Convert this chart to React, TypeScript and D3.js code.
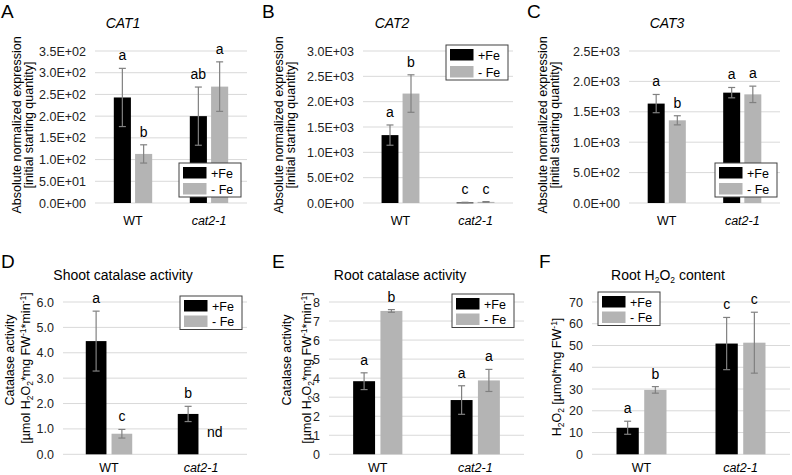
import React from "react";
import * as d3 from "d3";

// ---------- DATA ----------
const groups = ["WT", "cat2-1"];
const seriesNames = ["+Fe", "- Fe"];

// A: CAT1
const cat1Plus = [243, 200];
const cat1Minus = [113, 268];
const cat1PlusErr = [67, 67];
const cat1MinusErr = [21, 57];
const cat1PlusLetters = ["a", "ab"];
const cat1MinusLetters = ["b", "a"];
const cat1Ticks = [0, 50, 100, 150, 200, 250, 300, 350];

// B: CAT2
const cat2Plus = [1340, 10];
const cat2Minus = [2160, 22];
const cat2PlusErr = [200, 4];
const cat2MinusErr = [370, 6];
const cat2PlusLetters = ["a", "c"];
const cat2MinusLetters = ["b", "c"];
const cat2Ticks = [0, 500, 1000, 1500, 2000, 2500, 3000];

// C: CAT3
const cat3Plus = [1635, 1815];
const cat3Minus = [1360, 1787];
const cat3PlusErr = [150, 85];
const cat3MinusErr = [75, 135];
const cat3PlusLetters = ["a", "a"];
const cat3MinusLetters = ["b", "a"];
const cat3Ticks = [0, 500, 1000, 1500, 2000, 2500];

// D: Shoot catalase activity
const shootPlus = [4.46, 1.59];
const shootMinus = [0.81, null];
const shootPlusErr = [1.18, 0.3];
const shootMinusErr = [0.17, null];
const shootPlusLetters = ["a", "b"];
const shootMinusLetters = ["c", "nd"];
const shootTicks = [0, 1, 2, 3, 4, 5, 6];

// E: Root catalase activity
const rootCatPlus = [3.84, 2.85];
const rootCatMinus = [7.53, 3.88];
const rootCatPlusErr = [0.44, 0.75];
const rootCatMinusErr = [0.07, 0.58];
const rootCatPlusLetters = ["a", "a"];
const rootCatMinusLetters = ["b", "a"];
const rootCatTicks = [0, 1, 2, 3, 4, 5, 6, 7, 8];

// F: Root H2O2 content
const h2o2Plus = [12.2, 50.9];
const h2o2Minus = [29.6, 51.3];
const h2o2PlusErr = [3, 12];
const h2o2MinusErr = [1.5, 14];
const h2o2PlusLetters = ["a", "c"];
const h2o2MinusLetters = ["b", "c"];
const h2o2Ticks = [0, 10, 20, 30, 40, 50, 60, 70];

// ---------- STYLE ----------
const FONT = "'Liberation Sans', Arial, sans-serif";
const BLACK = "#000000";
const GRAY = "#b4b4b4";
const ERR = "#808080";
const GRID = "#d9d9d9";
const colors = [BLACK, GRAY];

const expFmt = (v: number) => {
  const s = v.toExponential(1);
  const [m, e] = s.split("e");
  const sign = e[0] === "-" ? "-" : "+";
  const num = e.replace(/[+-]/, "").padStart(2, "0");
  return `${m}E${sign}${num}`;
};
const fix1 = (v: number) => v.toFixed(1);
const int0 = (v: number) => d3.format("d")(v);

type PanelProps = {
  letter: string;
  letterX: number;
  letterY: number;
  title: React.ReactNode;
  titleItalic?: boolean;
  titleX: number;
  titleY: number;
  x0: number;
  x1: number;
  y0: number;
  y1: number;
  ticks: number[];
  fmt: (v: number) => string;
  plus: (number | null)[];
  minus: (number | null)[];
  plusErr: (number | null)[];
  minusErr: (number | null)[];
  plusLetters: string[];
  minusLetters: string[];
  legendX: number;
  legendY: number;
  legendRowGap: number;
  xLabelY: number;
  yLabel: React.ReactNode;
};

function Panel(p: PanelProps) {
  const xBand = d3.scaleBand<string>().domain(groups).range([p.x0, p.x1]);
  const band = xBand.bandwidth();
  const barW = band * 0.225;
  const gap = band * 0.055;
  const yMax = p.ticks[p.ticks.length - 1];
  const y = d3.scaleLinear().domain([0, yMax]).range([p.y1, p.y0]);
  const series = [
    { vals: p.plus, errs: p.plusErr, letters: p.plusLetters },
    { vals: p.minus, errs: p.minusErr, letters: p.minusLetters },
  ];
  return (
    <g fontFamily={FONT}>
      <text x={p.letterX} y={p.letterY} fontSize={19} fill="#000">
        {p.letter}
      </text>
      <text
        x={p.titleX}
        y={p.titleY}
        fontSize={14}
        textAnchor="middle"
        fontStyle={p.titleItalic ? "italic" : "normal"}
        fill="#000"
      >
        {p.title}
      </text>
      {p.ticks.map((t) => (
        <g key={t}>
          <line x1={p.x0} x2={p.x1} y1={y(t)} y2={y(t)} stroke={GRID} strokeWidth={1} />
          <text x={p.x0 - 9} y={y(t) + 4.5} fontSize={12.5} textAnchor="end" fill="#222">
            {p.fmt(t)}
          </text>
        </g>
      ))}
      {p.yLabel}
      {groups.map((g, gi) => {
        const cx = (xBand(g) as number) + band / 2;
        return (
          <g key={g}>
            {series.map((s, si) => {
              const v = s.vals[gi];
              const bx = si === 0 ? cx - gap / 2 - barW : cx + gap / 2;
              const bcx = bx + barW / 2;
              const e = s.errs[gi];
              const letter = s.letters[gi];
              if (v == null) {
                return (
                  <text key={si} x={bcx + 1} y={y(0) - 17} fontSize={14} textAnchor="middle" fill="#000">
                    {letter}
                  </text>
                );
              }
              const top = y(v + (e ?? 0));
              return (
                <g key={si}>
                  <rect x={bx} y={y(v)} width={barW} height={Math.max(0.8, y(0) - y(v))} fill={colors[si]} />
                  {e != null && (
                    <g stroke={ERR} strokeWidth={1.2}>
                      <line x1={bcx} x2={bcx} y1={y(v + e)} y2={y(Math.max(0, v - e))} />
                      <line x1={bcx - 3.5} x2={bcx + 3.5} y1={y(v + e)} y2={y(v + e)} />
                      <line x1={bcx - 3.5} x2={bcx + 3.5} y1={y(Math.max(0, v - e))} y2={y(Math.max(0, v - e))} />
                    </g>
                  )}
                  <text x={bcx} y={top - 8} fontSize={14} textAnchor="middle" fill="#000">
                    {letter}
                  </text>
                </g>
              );
            })}
            <text
              x={cx}
              y={p.xLabelY}
              fontSize={12.5}
              textAnchor="middle"
              fontStyle={gi === 1 ? "italic" : "normal"}
              fill="#000"
            >
              {g}
            </text>
          </g>
        );
      })}
      <g>
        <rect
          x={p.legendX}
          y={p.legendY}
          width={62}
          height={18 + p.legendRowGap}
          fill="#fff"
          stroke="#404040"
          strokeWidth={1}
        />
        {seriesNames.map((n, i) => (
          <g key={n}>
            <rect
              x={p.legendX + 4}
              y={p.legendY + 4 + i * p.legendRowGap}
              width={23.5}
              height={11.5}
              fill={colors[i]}
            />
            <text
              x={p.legendX + 32}
              y={p.legendY + 14.5 + i * p.legendRowGap}
              fontSize={12.5}
              fill="#000"
            >
              {n}
            </text>
          </g>
        ))}
      </g>
    </g>
  );
}

const RotLabel = ({ x, y, children }: { x: number; y: number; children: React.ReactNode }) => (
  <text
    transform={`translate(${x},${y}) rotate(-90)`}
    fontSize={12.5}
    textAnchor="middle"
    fill="#000"
    fontFamily={FONT}
  >
    {children}
  </text>
);

const Sub = ({ children }: { children: React.ReactNode }) => (
  <tspan baselineShift={-3} fontSize={8.5}>
    {children}
  </tspan>
);
const Sup = ({ children }: { children: React.ReactNode }) => (
  <tspan baselineShift={4} fontSize={8.5}>
    {children}
  </tspan>
);

const exprLabel = (x: number, yc: number) => (
  <>
    <RotLabel x={x} y={yc}>Absolute normalized expression</RotLabel>
    <RotLabel x={x + 12} y={yc}>[initial starting quantity]</RotLabel>
  </>
);

const catLabel = (x: number, yc: number, gap: number) => (
  <>
    <RotLabel x={x} y={yc - 8}>Catalase activity</RotLabel>
    <RotLabel x={x + gap} y={yc}>
      [µmol H<Sub>2</Sub>O<Sub>2</Sub>*mg FW<Sup>-1</Sup>*min<Sup>-1</Sup>]
    </RotLabel>
  </>
);

export default function App() {
  const topY0 = 51;
  const topY1 = 203;
  const botY0 = 302;
  const botY1 = 454.3;
  return (
    <svg width={792} height={475} style={{ position: "absolute", left: 0, top: 0, background: "#fff" }}>
      <rect width={792} height={475} fill="#fff" />
      <Panel
        letter="A" letterX={1} letterY={18}
        title="CAT1" titleItalic titleX={123} titleY={28}
        x0={95} x1={247} y0={topY0} y1={topY1}
        ticks={cat1Ticks} fmt={expFmt}
        plus={cat1Plus} minus={cat1Minus} plusErr={cat1PlusErr} minusErr={cat1MinusErr}
        plusLetters={cat1PlusLetters} minusLetters={cat1MinusLetters}
        legendX={179} legendY={163} legendRowGap={16}
        xLabelY={225}
        yLabel={exprLabel(20.5, 125)}
      />
      <Panel
        letter="B" letterX={262} letterY={18}
        title="CAT2" titleItalic titleX={392} titleY={28}
        x0={363} x1={513} y0={topY0} y1={topY1}
        ticks={cat2Ticks} fmt={expFmt}
        plus={cat2Plus} minus={cat2Minus} plusErr={cat2PlusErr} minusErr={cat2MinusErr}
        plusLetters={cat2PlusLetters} minusLetters={cat2MinusLetters}
        legendX={446} legendY={45} legendRowGap={17}
        xLabelY={225}
        yLabel={exprLabel(282.5, 125)}
      />
      <Panel
        letter="C" letterX={527} letterY={18}
        title="CAT3" titleItalic titleX={667} titleY={28}
        x0={629} x1={780} y0={topY0} y1={topY1}
        ticks={cat3Ticks} fmt={expFmt}
        plus={cat3Plus} minus={cat3Minus} plusErr={cat3PlusErr} minusErr={cat3MinusErr}
        plusLetters={cat3PlusLetters} minusLetters={cat3MinusLetters}
        legendX={715} legendY={163} legendRowGap={16}
        xLabelY={225}
        yLabel={exprLabel(547, 125)}
      />
      <Panel
        letter="D" letterX={1} letterY={268}
        title="Shoot catalase activity" titleX={123} titleY={280}
        x0={63} x1={247} y0={botY0} y1={botY1}
        ticks={shootTicks} fmt={fix1}
        plus={shootPlus} minus={shootMinus} plusErr={shootPlusErr} minusErr={shootMinusErr}
        plusLetters={shootPlusLetters} minusLetters={shootMinusLetters}
        legendX={180} legendY={296} legendRowGap={15.5}
        xLabelY={472}
        yLabel={catLabel(14, 368, 16)}
      />
      <Panel
        letter="E" letterX={272} letterY={268}
        title="Root catalase activity" titleX={400} titleY={280}
        x0={329} x1={524} y0={botY0} y1={botY1}
        ticks={rootCatTicks} fmt={int0}
        plus={rootCatPlus} minus={rootCatMinus} plusErr={rootCatPlusErr} minusErr={rootCatMinusErr}
        plusLetters={rootCatPlusLetters} minusLetters={rootCatMinusLetters}
        legendX={452} legendY={294} legendRowGap={15.5}
        xLabelY={472}
        yLabel={catLabel(291, 368, 20)}
      />
      <Panel
        letter="F" letterX={539} letterY={268}
        title={
          <>
            Root H<Sub>2</Sub>O<Sub>2</Sub> content
          </>
        }
        titleX={668} titleY={280}
        x0={592} x1={790} y0={botY0} y1={botY1}
        ticks={h2o2Ticks} fmt={int0}
        plus={h2o2Plus} minus={h2o2Minus} plusErr={h2o2PlusErr} minusErr={h2o2MinusErr}
        plusLetters={h2o2PlusLetters} minusLetters={h2o2MinusLetters}
        legendX={598} legendY={292} legendRowGap={15.5}
        xLabelY={472}
        yLabel={
          <RotLabel x={561} y={377}>
            H<Sub>2</Sub>O<Sub>2</Sub> [µmol*mg FW<Sup>-1</Sup>]
          </RotLabel>
        }
      />
    </svg>
  );
}
